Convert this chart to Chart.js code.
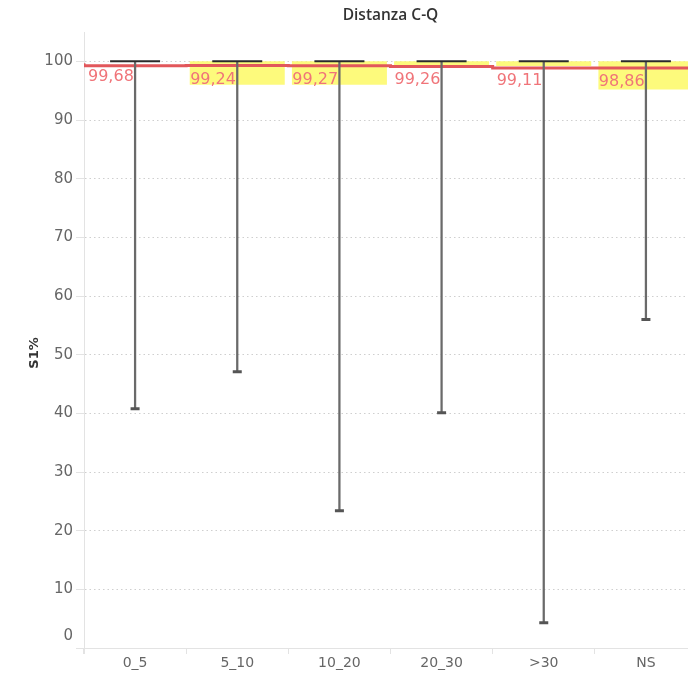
<!DOCTYPE html>
<html>
<head>
<meta charset="utf-8">
<script src="https://cdn.jsdelivr.net/npm/chart.js@4/dist/chart.umd.min.js"></script>
<style>
  html,body{margin:0;padding:0;background:#fff;overflow:hidden;}
  #chart{display:block;}
</style>
</head>
<body>
<canvas id="chart" width="700" height="675"></canvas>
<script>
/* dati */
const categories = ["0_5","5_10","10_20","20_30",">30","NS"];
const means    = [99.68, 99.24, 99.27, 99.26, 99.11, 98.86];
const mins     = [40.8, 47.1, 23.4, 40.1, 4.3, 56.0];
const maxs     = [100, 100, 100, 100, 100, 100];
const bandLow  = [100, 96.0, 96.0, 99.3, 99.2, 95.2];
const bandHigh = [100, 100, 100, 100, 100, 100];
const yTicks   = [0,10,20,30,40,50,60,70,80,90,100];

const FONT = "'DejaVu Sans', sans-serif";

/* linea a gradini sulla media, dai bordi delle categorie */
const stepData = means.map((m,i)=>({x:i-0.5,y:m}));
stepData.push({x:categories.length-0.5,y:means[means.length-1]});

/* asse y continuo (il dash del bordo vale per la griglia) */
const axisLine = {
  id:"axisLine",
  beforeDatasetsDraw(chart){
    const {ctx,chartArea} = chart;
    ctx.save();
    ctx.strokeStyle = "#e3e3e3";
    ctx.lineWidth = 1;
    ctx.beginPath();
    ctx.moveTo(chartArea.left+0.5, chartArea.top);
    ctx.lineTo(chartArea.left+0.5, chartArea.bottom+6);
    ctx.stroke();
    ctx.restore();
  }
};

/* testi: titolo, asse y, etichette medie, tick 0 */
const textPlugin = {
  id:"texts",
  afterDatasetsDraw(chart){
    const {ctx,chartArea,scales} = chart;
    const y = scales.y;
    ctx.save();

    // etichette delle medie
    ctx.font = "16px " + FONT;
    ctx.fillStyle = "#f07479";
    ctx.textAlign = "left";
    ctx.textBaseline = "middle";
    const w = (chartArea.right-chartArea.left)/categories.length;
    means.forEach((m,i)=>{
      const left = chartArea.left + i*w;
      ctx.fillText(m.toFixed(2).replace(".",","), left+4, y.getPixelForValue(m)+14);
    });

    // titolo
    ctx.font = "600 15.5px 'Open Sans', sans-serif";
    ctx.fillStyle = "#333";
    ctx.textAlign = "center";
    ctx.fillText("Distanza C-Q", (chartArea.left+chartArea.right)/2, 16);

    // titolo asse y
    ctx.translate(35, (chartArea.top+chartArea.bottom)/2 + 13);
    ctx.rotate(-Math.PI/2);
    ctx.font = "bold 13px " + FONT;
    ctx.fillStyle = "#333";
    ctx.fillText("S1%", 0, 0);
    ctx.restore();

    // tick 0 spostato in alto come in Tableau
    ctx.save();
    ctx.font = "15px " + FONT;
    ctx.fillStyle = "#666";
    ctx.textAlign = "right";
    ctx.textBaseline = "middle";
    ctx.fillText("0", chartArea.left-11, y.getPixelForValue(0)-12);
    ctx.restore();
  }
};

new Chart(document.getElementById("chart"),{
  data:{
    labels:categories,
    datasets:[
      {
        type:"line",
        label:"max",
        data:maxs,
        showLine:false,
        pointStyle:"line",
        pointRadius:25,
        pointHoverRadius:25,
        borderColor:"#2b2b2b",
        borderWidth:2,
        order:0
      },
      {
        type:"line",
        label:"min",
        data:mins,
        showLine:false,
        pointStyle:"line",
        pointRadius:4.5,
        pointHoverRadius:4.5,
        borderColor:"#555",
        borderWidth:3,
        order:0
      },
      {
        type:"bar",
        label:"range",
        data:mins.map((v,i)=>[v,maxs[i]]),
        backgroundColor:"#6a6a6a",
        barThickness:1.6,
        grouped:false,
        order:1
      },
      {
        type:"line",
        label:"media",
        xAxisID:"x2",
        data:stepData,
        stepped:"after",
        borderColor:"#e2575b",
        borderWidth:3,
        pointRadius:0,
        fill:false,
        order:2
      },
      {
        type:"bar",
        label:"banda",
        data:bandLow.map((v,i)=>[v,bandHigh[i]]),
        backgroundColor:"#fdfa7c",
        barPercentage:0.93,
        categoryPercentage:1,
        grouped:false,
        order:3
      }
    ]
  },
  options:{
    responsive:false,
    animation:false,
    devicePixelRatio:1,
    layout:{autoPadding:false,padding:{top:32,right:3,left:0,bottom:0}},
    plugins:{legend:{display:false},tooltip:{enabled:false},title:{display:false}},
    scales:{
      x:{
        type:"category",
        offset:true,
        afterFit(s){ s.height = 27; },
        grid:{
          offset:true,
          drawOnChartArea:false,
          tickLength:6,
          color:"#e3e3e3"
        },
        border:{color:"#e3e3e3"},
        ticks:{
          color:"#666",
          font:{family:FONT,size:14},
          padding:1,
          maxRotation:0
        }
      },
      x2:{
        type:"linear",
        display:false,
        min:-0.5,
        max:categories.length-0.5
      },
      y:{
        min:0,
        max:105,
        afterFit(s){ s.width = 84; },
        afterBuildTicks(s){ s.ticks = yTicks.map(v=>({value:v})); },
        grid:{
          color:(c)=>c.tick && c.tick.value===0 ? "rgba(0,0,0,0)" : "#cfcfcf",
          tickLength:8,
          tickColor:"#e3e3e3",
          tickBorderDash:[]
        },
        border:{color:"rgba(0,0,0,0)",dash:[1.5,3]},
        ticks:{
          color:"#666",
          font:{family:FONT,size:15},
          padding:3,
          callback:(v)=>v===0 ? "" : v
        }
      }
    }
  },
  plugins:[axisLine,textPlugin]
});
</script>
</body>
</html>
